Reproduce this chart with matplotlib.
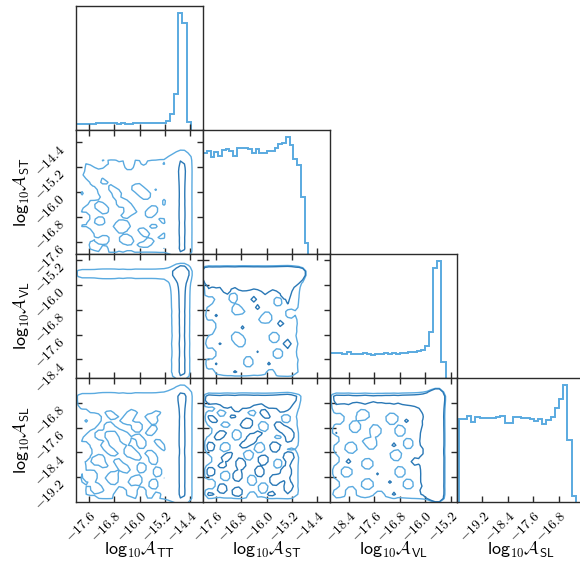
import numpy as np
import matplotlib
matplotlib.use("Agg")
import matplotlib.pyplot as plt

plt.rcParams["mathtext.fontset"] = "cm"

# ---------------- data ----------------
LABEL_TT = r"$\mathsf{log}_{\mathsf{10}}\mathcal{A}_{\mathsf{TT}}$"
LABEL_ST = r"$\mathsf{log}_{\mathsf{10}}\mathcal{A}_{\mathsf{ST}}$"
LABEL_VL = r"$\mathsf{log}_{\mathsf{10}}\mathcal{A}_{\mathsf{VL}}$"
LABEL_SL = r"$\mathsf{log}_{\mathsf{10}}\mathcal{A}_{\mathsf{SL}}$"

# marginal histograms (28 bins each, relative counts)
HIST_TT = [18, 18, 18, 18, 18, 20, 21, 21, 21, 21, 18, 21, 18, 18, 21, 20, 20, 20,
           20, 20, 22, 22, 28, 48, 107, 352, 320, 25]
HIST_ST = [304, 310, 290, 306, 294, 312, 315, 309, 295, 319, 317, 317, 314, 303, 314,
           303, 303, 308, 310, 317, 330, 334, 352, 327, 284, 267, 172, 32]
HIST_VL = [74, 76, 74, 73, 77, 71, 71, 72, 76, 72, 69, 73, 71, 74, 72, 76, 71, 76,
           76, 77, 78, 81, 86, 97, 139, 332, 354, 49]
HIST_SL = [248, 248, 258, 240, 253, 250, 250, 251, 251, 253, 258, 236, 236, 255, 255,
           252, 252, 248, 241, 247, 233, 246, 253, 280, 308, 350, 186, 18]

HIST_RANGE_TT = (-18.0, -14.39)
HIST_RANGE_ST = (-18.0, -14.68)
HIST_RANGE_VL = (-19.0, -15.36)
HIST_RANGE_SL = (-19.95, -16.26)

AXIS_LIM_TT = (-18.0, -14.0)
AXIS_LIM_ST = (-18.0, -14.0)
AXIS_LIM_VL = (-19.0, -15.0)
AXIS_LIM_SL = (-20.0, -16.0)

TICKS_TT = [-17.6, -16.8, -16.0, -15.2, -14.4]
TICKS_ST = [-17.6, -16.8, -16.0, -15.2, -14.4]
TICKS_VL = [-18.4, -17.6, -16.8, -16.0, -15.2]
TICKS_SL = [-19.2, -18.4, -17.6, -16.8]

# sampling-noise texture of the 2D posteriors, one char per histogram bin
# (rows: top -> bottom; '0' = local deficit, '1' = typical, '2' = local excess)
ONES = "1111111" "1111111" "1111111" "1111111"
TEX_ST_TT = [
    ONES,
    ONES,
    "1111011" "1111111" "1111111" "1111111",
    "1111001" "0111100" "1101111" "0011111",
    "1011100" "1111100" "1111111" "1111111",
    "0011111" "1111111" "1111110" "1111111",
    "0111111" "1111111" "1111111" "1111111",
    "0011110" "1111111" "1011111" "1111111",
    "1001110" "0111111" "1111111" "1111111",
    "1001111" "1011111" "0011111" "1111111",
    "1100011" "1001111" "0001101" "1111111",
    "1110011" "1100111" "1000111" "1111111",
    "1101001" "1101111" "1100111" "1011111",
    "1001111" "1110011" "1111111" "0011111",
    "0011100" "1110001" "1111111" "0011111",
    "0111100" "0111100" "1111001" "1111111",
    "1111110" "0111100" "0110001" "1111111",
    "1001111" "1111001" "1110011" "1101111",
    "1001100" "1111111" "1111110" "0111111",
    "1111100" "1110011" "1111111" "0011111",
    "1111111" "1100001" "1111001" "1111111",
    "1001111" "1110011" "1001111" "1111111",
    "1000111" "1111111" "1100111" "0011111",
    "1100110" "0111001" "1111110" "0111111",
    "1111100" "0111000" "1110011" "1111111",
    "0011111" "1111111" "1000111" "1111111",
    "0001110" "0111111" "1111111" "0011111",
    ONES,
]
TEX_VL_TT = [ONES] * 28
TEX_SL_TT = [
    ONES, ONES, ONES, ONES, ONES, ONES,
    "1001111" "0011110" "0111100" "1111111",
    "0011001" "1001100" "1110011" "1111111",
    "0111001" "1111001" "1111001" "0111111",
    "1110011" "0011111" "0011111" "1111111",
    "1001111" "0001111" "0011001" "1111111",
    "0011100" "1110011" "1110011" "0011111",
    "0111100" "1111001" "0011111" "1111111",
    "1111111" "0111001" "1001100" "1111111",
    "1001110" "0111111" "1001110" "0111111",
    "0001111" "0011100" "1111111" "0011111",
    "1101111" "1001100" "0110011" "1111111",
    "1001100" "1111111" "0011001" "1111111",
    "1111000" "1100111" "1111001" "1111111",
    "0011110" "0110011" "1001111" "0011111",
    "0011111" "1111001" "1001100" "1111111",
    "1110011" "1001111" "1111100" "1111111",
    "1100011" "0001111" "0011111" "0011111",
    "1111111" "1001110" "0011001" "1111111",
    "0011001" "1111111" "1111001" "1111111",
    "0011000" "1110011" "1001111" "0011111",
    "1111111" "1100011" "1001100" "1111111",
    "1001111" "1111111" "1111111" "1111111",
]
TEX_VL_ST = [
    ONES, ONES, ONES, ONES, ONES, ONES,
    "1111112" "1111111" "1121111" "1111111",
    "1111111" "0011111" "1111111" "2111111",
    "1001111" "0011112" "1111100" "1111111",
    "0011111" "1111111" "1111100" "1111111",
    "1111111" "1001111" "2111111" "1111111",
    "1111111" "1000111" "1111111" "1001111",
    "1112111" "1111111" "1100111" "1001111",
    "1111111" "1111111" "1000111" "1111111",
    "1001111" "1111111" "1111112" "1111111",
    "0001111" "1112111" "1111111" "1111111",
    "0011111" "1111111" "1111111" "1111111",
    "1111111" "1001111" "1111001" "1111111",
    "1111111" "1000111" "1111001" "1111111",
    "1111211" "1100111" "1111111" "1211111",
    ONES,
    "1001111" "1111111" "2111100" "1111111",
    "1001111" "1111111" "1111100" "1111111",
    "1111111" "1111001" "1111111" "1111111",
    "1112111" "1111001" "1112111" "1111111",
    ONES,
    "1001111" "1211111" "1110011" "1111111",
    ONES,
]
TEX_SL_ST = [
    ONES, ONES, ONES,
    "1221111" "1111111" "1111111" "1111111",
    "1111122" "1111221" "1112211" "1111111",
    "1001111" "1221111" "1111112" "2111111",
    "1111001" "1111100" "1221111" "1111111",
    "1221111" "2211111" "1122111" "0011111",
    "1122111" "1111221" "1111111" "0011111",
    "1111100" "1112221" "1001122" "1111111",
    "0011111" "1111111" "1001112" "2111111",
    "0011221" "1001111" "2211111" "1221111",
    "1112211" "1001122" "1111100" "1121111",
    "1111111" "1111122" "1111111" "1111111",
    "1221100" "1112211" "0011221" "1111111",
    "1221100" "1111111" "0011221" "1001111",
    "1111112" "2111001" "1111111" "1221111",
    "0011122" "1111001" "1221111" "1221111",
    "0011111" "1122111" "1221100" "1111111",
    "1111221" "1122111" "1111100" "1111111",
    "1221111" "1111111" "2211111" "2211111",
    "1221100" "1221111" "2211111" "2211111",
    "1111100" "1221100" "1111221" "1111111",
    "1001111" "1111100" "1111221" "1111111",
    "1001221" "1111111" "1001111" "1221111",
    "1111221" "1221111" "1001111" "1111111",
    "1221111" "1221100" "1112211" "1111111",
    ONES,
]
TEX_SL_VL = [
    ONES, ONES, ONES, ONES, ONES, ONES,
    "1111111" "0011111" "1111111" "1111111",
    "1001111" "0011211" "0011111" "1111111",
    "1001111" "1111111" "0011211" "1111111",
    "1111100" "1111111" "1111111" "1111111",
    "1111100" "1110011" "1100111" "1111111",
    "1211111" "1110011" "1100111" "1111111",
    "0011111" "1111111" "1111111" "1111111",
    "0011111" "1000111" "1111001" "1111111",
    "1111001" "1100111" "1211001" "1111111",
    "1111001" "1111111" "1111111" "1111111",
    "1111111" "1112111" "1001111" "1111111",
    "0011111" "1111111" "1001111" "1111111",
    "0011211" "1001111" "1111112" "1111111",
    "1111111" "1001111" "1111111" "1111111",
    "1110011" "1111111" "1100111" "1111111",
    "1110011" "1111211" "1100111" "1111111",
    ONES,
    "0011111" "1001111" "2111001" "1111111",
    "0011111" "1001111" "1111001" "1111111",
    "1111001" "1111111" "1111111" "1111111",
    "1111001" "1111001" "1211111" "1111111",
    ONES,
]
TEX_FACTOR = {"0": 0.5, "1": 1.0, "2": 1.45}

# contour levels (light, dark) relative to the typical flat-region density
LEVELS = {
    (1, 0): (0.8, 12.5),
    (2, 0): (2.5, 12.5),
    (3, 0): (0.8, 12.5),
    (2, 1): (0.85, 1.12),
    (3, 1): (0.85, 1.12),
    (3, 2): (0.85, 1.12),
}

# ---------------- assembly ----------------
LABELS = [LABEL_TT, LABEL_ST, LABEL_VL, LABEL_SL]
HISTS = [HIST_TT, HIST_ST, HIST_VL, HIST_SL]
HRANGES = [HIST_RANGE_TT, HIST_RANGE_ST, HIST_RANGE_VL, HIST_RANGE_SL]
LIMS = [AXIS_LIM_TT, AXIS_LIM_ST, AXIS_LIM_VL, AXIS_LIM_SL]
TICKS = [TICKS_TT, TICKS_ST, TICKS_VL, TICKS_SL]
TEX = {(1, 0): TEX_ST_TT, (2, 0): TEX_VL_TT, (3, 0): TEX_SL_TT,
       (2, 1): TEX_VL_ST, (3, 1): TEX_SL_ST, (3, 2): TEX_SL_VL}

LIGHT = "#5aaae0"
DARK = "#2a78b6"
SPINE = "#2b2b2b"
PAD = 3


def smooth(a, s=0.6):
    r = np.arange(-3, 4)
    k = np.exp(-0.5 * (r / s) ** 2)
    k /= k.sum()
    a = np.apply_along_axis(lambda v: np.convolve(v, k, mode="same"), 0, a)
    a = np.apply_along_axis(lambda v: np.convolve(v, k, mode="same"), 1, a)
    return a


def centers(rng, n):
    e = np.linspace(rng[0], rng[1], n + 1)
    w = e[1] - e[0]
    c = 0.5 * (e[:-1] + e[1:])
    return np.concatenate([c[0] - w * np.arange(PAD, 0, -1), c,
                           c[-1] + w * np.arange(1, PAD + 1)])


def density(hx, hy, tex):
    hx = np.asarray(hx, float)
    hy = np.asarray(hy, float)
    base = np.outer(hy / np.median(hy), hx / np.median(hx))
    t = np.array([[TEX_FACTOR[c] for c in row] for row in tex[::-1]])
    assert t.shape == base.shape, t.shape
    d = np.pad(base * t, PAD)
    return smooth(d)


def fmt(v):
    return r"$\mathsf{%.1f}$" % v


W, H = 580, 569
fig = plt.figure(figsize=(W / 100, H / 100), dpi=100)
col_left = [76, 203, 330, 457]
row_top = [6, 130, 254, 378]
cw, rh = 127, 124

for i in range(4):
    for j in range(i + 1):
        ax = fig.add_axes([col_left[j] / W, 1 - (row_top[i] + rh) / H, cw / W, rh / H])
        for s in ax.spines.values():
            s.set_color(SPINE)
            s.set_linewidth(1.0)
        if i == j:
            h = np.asarray(HISTS[i], float)
            edges = np.linspace(HRANGES[i][0], HRANGES[i][1], len(h) + 1)
            ax.stairs(h, edges, color=LIGHT, lw=1.4)
            ax.set_ylim(0, 1.057 * h.max())
            ax.set_yticks([])
            ax.tick_params(axis="x", direction="in", length=4, width=1.0,
                           color=SPINE, top=False, bottom=True)
        else:
            hx, hy = HISTS[j], HISTS[i]
            d = density(hx, hy, TEX[(i, j)])
            xc = centers(HRANGES[j], len(hx))
            yc = centers(HRANGES[i], len(hy))
            lv = LEVELS[(i, j)]
            ax.contour(xc, yc, d, levels=list(lv), colors=[LIGHT, DARK],
                       linewidths=1.0)
            ax.set_ylim(*LIMS[i])
            ax.set_yticks(TICKS[i])
            ax.tick_params(direction="in", length=4, width=1.0, color=SPINE,
                           top=True, right=True, bottom=True, left=True)
            if j == 0:
                ax.set_yticklabels([fmt(t) for t in TICKS[i]], rotation=45,
                                   ha="right", va="top", fontsize=10)
                ax.tick_params(axis="y", pad=6)
            else:
                ax.set_yticklabels([])
        ax.set_xlim(*LIMS[j])
        ax.set_xticks(TICKS[j])
        if i == 3:
            ax.set_xticklabels([fmt(t) for t in TICKS[j]], rotation=45,
                               ha="right", va="top", rotation_mode="anchor",
                               fontsize=10)
            ax.tick_params(axis="x", pad=5)
        else:
            ax.set_xticklabels([])

for j in range(4):
    fig.text((col_left[j] + cw / 2) / W, 1 - 550 / H, LABELS[j],
             ha="center", va="center", fontsize=13)
for i in range(1, 4):
    fig.text(22 / W, 1 - (row_top[i] + rh / 2) / H, LABELS[i],
             ha="center", va="center", rotation=90, fontsize=13)

fig.savefig("out.png", dpi=100)
